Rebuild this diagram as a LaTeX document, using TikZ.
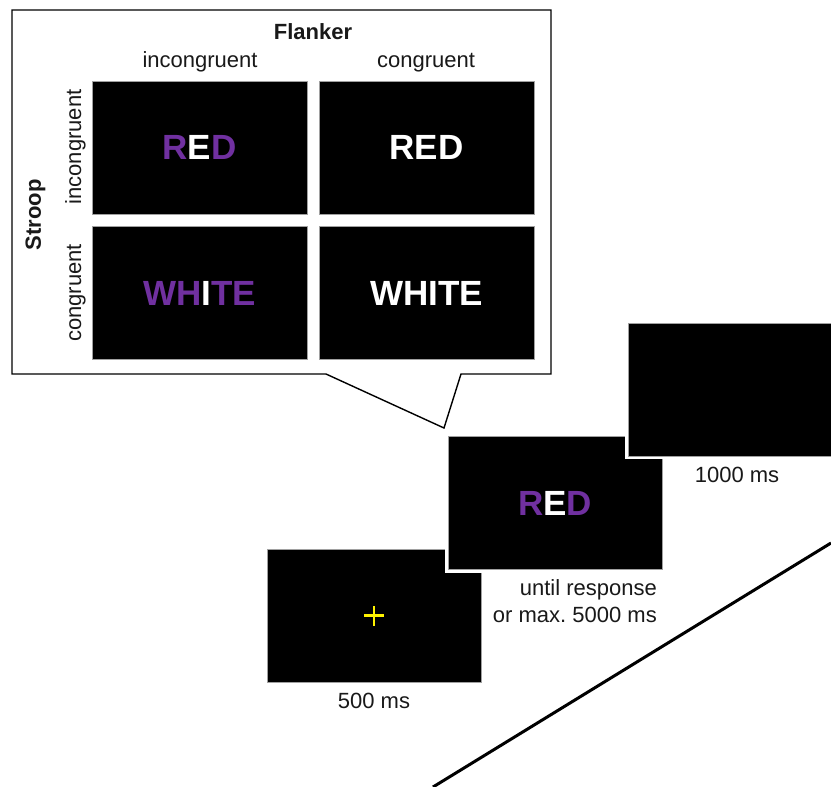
\documentclass[tikz,border=0pt]{standalone}
\usepackage{fontspec}
\setmainfont{Liberation Sans}
\definecolor{vio}{HTML}{7030A0}
\definecolor{rim}{HTML}{A0A0A0}
\begin{document}
\begin{tikzpicture}[x=1pt,y=-1pt,
  screen/.style={fill=black, draw=rim, line width=0.7pt, inner sep=0pt,
    minimum width=214pt, minimum height=133pt, text=vio,
    font=\fontsize{35}{40}\selectfont\bfseries},
  ontop/.style={preaction={draw=white, line width=6pt}},
  lbl/.style={font=\fontsize{22}{26}\selectfont, inner sep=0pt, text=black!90},
  blbl/.style={font=\fontsize{22}{26}\selectfont\bfseries, inner sep=0pt, text=black!90}]
\clip (0,0) rectangle (831,787);
\fill[white] (0,0) rectangle (831,787);
% callout box
\draw[line width=1.4pt, fill=white] (12,10) coordinate (c1) -- (551,10) -- (551,374) -- (461,374)
  -- (444,428) coordinate (tip) -- (326,374) -- (12,374) -- cycle;
% header labels
\node[blbl, anchor=base] (flk) at (313,39) {Flanker};
\node[lbl, anchor=base] (hinc) at (200,67) {incongruent};
\node[lbl, anchor=base] (hcon) at (426,67) {congruent};
\node[blbl, rotate=90, anchor=base] (str) at (41,215) {Stroop};
\node[lbl, rotate=90, anchor=base] (vinc) at (81,147) {incongruent};
\node[lbl, rotate=90, anchor=base] (vcon) at (81,293) {congruent};
% panels
\node[screen, minimum width=215pt] (p11) at (199.5,147.5) {R\textcolor{white}{E}D};
\node[screen, minimum width=215pt, text=white] (p12) at (426.5,147.5) {RED};
\node[screen, minimum width=215pt] (p21) at (199.5,293) {WH\textcolor{white}{I}TE};
\node[screen, minimum width=215pt, text=white] (p22) at (426.5,293) {WHITE};
% timeline
\node[screen] (s1) at (374,615.5) {};
\draw[yellow, line width=2.2pt] ([xshift=-10pt]s1.center) -- ([xshift=10pt]s1.center)
  ([yshift=-10pt]s1.center) -- ([yshift=10pt]s1.center);
\node[screen, ontop] (s2) at (555,503) {R\textcolor{white}{E}D};
\node[screen, ontop] (s3) at (735,389.5) {};
\node[lbl, anchor=base] (t1) at (374,708) {500 ms};
\node[lbl, anchor=base east] (t2a) at (657,595) {until response};
\node[lbl, anchor=base east] (t2b) at (657,622) {or max.\ 5000 ms};
\node[lbl, anchor=base] (t3) at (737,482) {1000 ms};
% time axis
\coordinate (a0) at (433,787);
\coordinate (a1) at (831,543);
\draw[line width=3pt] (a0) -- (a1);
\end{tikzpicture}
\end{document}
